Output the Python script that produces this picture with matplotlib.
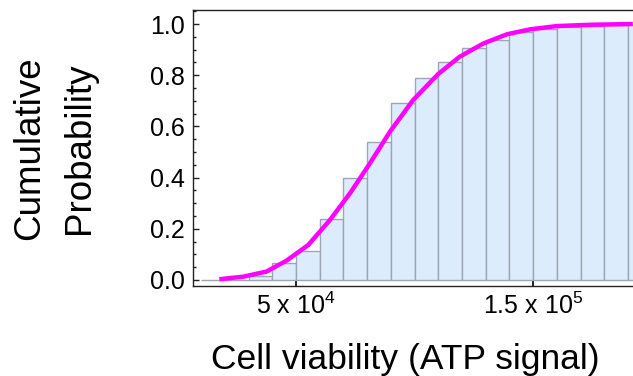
import matplotlib
matplotlib.use("Agg")
import matplotlib.pyplot as plt
import numpy as np
from matplotlib.ticker import MultipleLocator

plt.rcParams['font.family'] = ['Liberation Sans', 'DejaVu Sans']
plt.rcParams['mathtext.fontset'] = 'custom'
plt.rcParams['mathtext.rm'] = 'Liberation Sans'
plt.rcParams['mathtext.it'] = 'Liberation Sans:italic'

# histogram bins (left edges, ATP signal) and cumulative probabilities
bin_left = [1e4, 2e4, 3e4, 4e4, 5e4, 6e4, 7e4, 8e4, 9e4, 1e5,
            1.1e5, 1.2e5, 1.3e5, 1.4e5, 1.5e5, 1.6e5, 1.7e5, 1.8e5, 1.9e5]
bin_cum = [0.0, 0.0, 0.015, 0.068, 0.115, 0.24, 0.398, 0.538, 0.693, 0.79,
           0.852, 0.907, 0.9375, 0.968, 0.979, 0.988, 0.992, 0.996, 1.0]
bin_width = 1e4

# fitted CDF curve
curve_x = [1.77e4, 2.78e4, 3.76e4, 4.61e4, 5.52e4, 6.43e4, 7.28e4, 8.12e4, 8.96e4,
           9.94e4, 1.10e5, 1.19e5, 1.29e5, 1.39e5, 1.486e5, 1.60e5, 1.74e5, 1.92e5]
curve_y = [0.003, 0.013, 0.033, 0.076, 0.137, 0.234, 0.339, 0.456, 0.579,
           0.703, 0.805, 0.872, 0.924, 0.960, 0.979, 0.992, 0.997, 1.0]

xtick_vals = [5e4, 1.5e5]
xtick_labels = [r'5 x 10$^{\mathregular{4}}$', r'1.5 x 10$^{\mathregular{5}}$']
ytick_vals = [0.0, 0.2, 0.4, 0.6, 0.8, 1.0]
ytick_labels = ['0.0', '0.2', '0.4', '0.6', '0.8', '1.0']

fig = plt.figure(figsize=(6.33, 3.76), dpi=100)
ax = fig.add_axes([0.3044, 0.2394, 1.011 - 0.3044, 0.734])

ax.bar(bin_left, bin_cum, width=bin_width, align='edge',
       color='#ddecfc', edgecolor='#9ba6b0', linewidth=1.0, zorder=2)
ax.plot(curve_x, curve_y, color='#ff00ff', linewidth=3.2,
        solid_capstyle='butt', zorder=3)

ax.set_xlim(6470, 1.95e5)
ax.set_ylim(-0.0234, 1.0547)

ax.set_xticks(xtick_vals)
ax.set_xticklabels(xtick_labels, fontsize=18)
ax.set_yticks(ytick_vals)
ax.set_yticklabels(ytick_labels, fontsize=18)
ax.yaxis.set_minor_locator(MultipleLocator(0.05))

ax.tick_params(axis='y', which='major', direction='in', length=4, width=1,
               pad=5.5, color='#222222')
ax.tick_params(axis='y', which='minor', direction='in', length=2.5, width=1,
               color='#222222')
ax.tick_params(axis='x', which='major', direction='in', length=4, width=1.4,
               pad=5, color='#222222')

for s in ['left', 'top', 'bottom']:
    ax.spines[s].set_linewidth(1.0)
    ax.spines[s].set_color('#222222')
ax.spines['right'].set_visible(False)

fig.text(0.641, 0.018, 'Cell viability (ATP signal)', fontsize=25.5,
         ha='center', va='baseline')
ax.set_ylabel('Cumulative\nProbability', fontsize=26.5, linespacing=1.55)
ax.yaxis.set_label_coords(-0.214, 0.5)

fig.savefig('out.png', dpi=100)
